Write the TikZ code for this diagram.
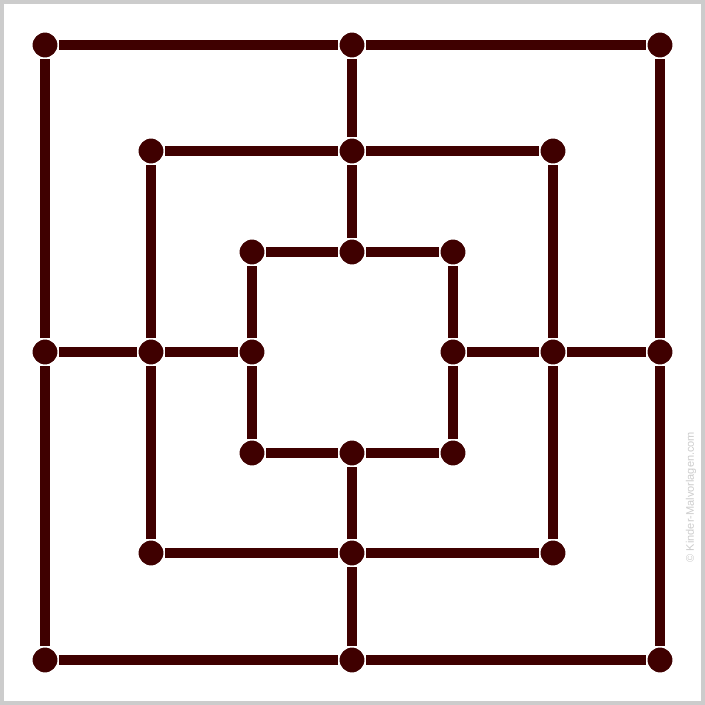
\documentclass[tikz,border=0pt]{standalone}
\usepackage{fontspec}
\setsansfont{Liberation Sans}
\definecolor{stone}{HTML}{3F0000}
\definecolor{frame}{HTML}{CCCCCC}
\tikzset{
  spot/.style={draw=white, line width=3pt, circle, fill=stone, minimum size=28pt, inner sep=0pt, outer sep=0pt},
  track/.style={draw=stone, line width=10pt}
}
\begin{document}
\begin{tikzpicture}[x=1pt, y=-1pt]
\useasboundingbox (0,0) rectangle (705,705);
\draw[frame, line width=4pt] (2,2) rectangle (703,703);

% outer square
\node[spot] (o1) at (45,45) {};
\node[spot] (o2) at (352,45) {};
\node[spot] (o3) at (660,45) {};
\node[spot] (o4) at (660,352) {};
\node[spot] (o5) at (660,660) {};
\node[spot] (o6) at (352,660) {};
\node[spot] (o7) at (45,660) {};
\node[spot] (o8) at (45,352) {};

% middle square
\node[spot] (m1) at (151,151) {};
\node[spot] (m2) at (352,151) {};
\node[spot] (m3) at (553,151) {};
\node[spot] (m4) at (553,352) {};
\node[spot] (m5) at (553,553) {};
\node[spot] (m6) at (352,553) {};
\node[spot] (m7) at (151,553) {};
\node[spot] (m8) at (151,352) {};

% inner square
\node[spot] (i1) at (252,252) {};
\node[spot] (i2) at (352,252) {};
\node[spot] (i3) at (453,252) {};
\node[spot] (i4) at (453,352) {};
\node[spot] (i5) at (453,453) {};
\node[spot] (i6) at (352,453) {};
\node[spot] (i7) at (252,453) {};
\node[spot] (i8) at (252,352) {};

\draw[track] (o1) -- (o2); \draw[track] (o2) -- (o3);
\draw[track] (o3) -- (o4); \draw[track] (o4) -- (o5);
\draw[track] (o5) -- (o6); \draw[track] (o6) -- (o7);
\draw[track] (o7) -- (o8); \draw[track] (o8) -- (o1);

\draw[track] (m1) -- (m2); \draw[track] (m2) -- (m3);
\draw[track] (m3) -- (m4); \draw[track] (m4) -- (m5);
\draw[track] (m5) -- (m6); \draw[track] (m6) -- (m7);
\draw[track] (m7) -- (m8); \draw[track] (m8) -- (m1);

\draw[track] (i1) -- (i2); \draw[track] (i2) -- (i3);
\draw[track] (i3) -- (i4); \draw[track] (i4) -- (i5);
\draw[track] (i5) -- (i6); \draw[track] (i6) -- (i7);
\draw[track] (i7) -- (i8); \draw[track] (i8) -- (i1);

% cross lines
\draw[track] (o2) -- (m2); \draw[track] (m2) -- (i2);
\draw[track] (o4) -- (m4); \draw[track] (m4) -- (i4);
\draw[track] (o6) -- (m6); \draw[track] (m6) -- (i6);
\draw[track] (o8) -- (m8); \draw[track] (m8) -- (i8);

\node[rotate=90, text=frame, font=\sffamily\fontsize{11}{12}\selectfont, inner sep=0pt] (mark) at (691,497) {© Kinder-Malvorlagen.com};
\end{tikzpicture}
\end{document}
